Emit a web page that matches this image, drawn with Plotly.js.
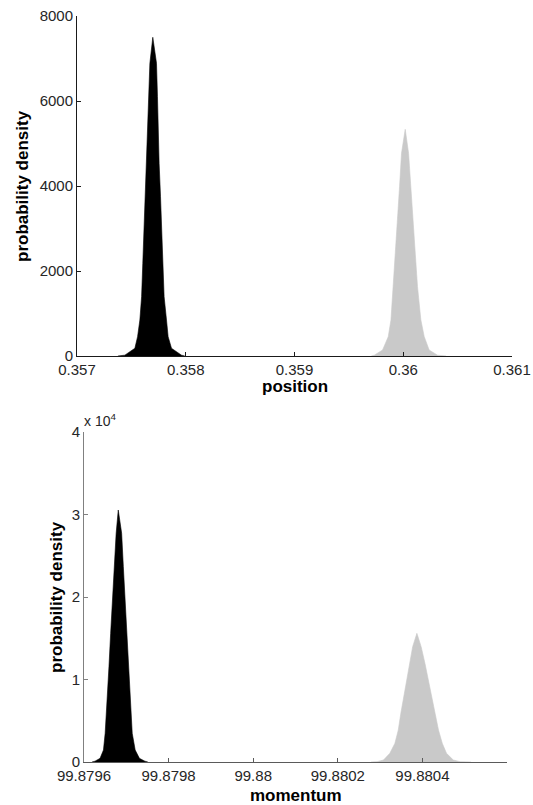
<!DOCTYPE html>
<html>
<head>
<meta charset="utf-8">
<script src="https://cdn.plot.ly/plotly-3.0.1.min.js"></script>
<style>html,body{margin:0;padding:0;background:#fff;}#chart{width:533px;height:805px;}</style>
</head>
<body>
<div id="chart"></div>
<script>
// ---- Top panel: position ----
var posBlackX = [0.357376,0.357440,0.357532,0.357557,0.357578,0.357594,0.357605,0.357615,0.357624,0.357633,0.357645,0.357654,0.357670,0.357697,0.357731,0.357740,0.357746,0.357755,0.357768,0.357777,0.357792,0.357801,0.357823,0.357838,0.357869,0.357961,0.357991];
var posBlackY = [0,20,181,455,847,1396,2181,2965,3749,4534,5318,6102,6887,7499,6887,6102,5318,4534,3749,2965,2181,1396,847,455,181,20,0];
var posGrayX = [0.359706,0.359734,0.359810,0.359862,0.359887,0.359908,0.359927,0.359948,0.359966,0.359984,0.360018,0.360049,0.360071,0.360092,0.360110,0.360131,0.360162,0.360193,0.360238,0.360315,0.360394];
var posGrayY = [0,20,141,455,847,1631,2416,3200,3984,4769,5334,4769,3984,3200,2416,1631,847,455,141,20,0];
var posTickVals = [0.357,0.358,0.359,0.360,0.361];
var posTickText = ['0.357','0.358','0.359','0.36','0.361'];
var posYTickVals = [0,2000,4000,6000,8000];
var posYTickText = ['0','2000','4000','6000','8000'];

// ---- Bottom panel: momentum ----
var momBlackX = [99.8796189,99.879626,99.879638,99.879646,99.879650,99.879655,99.879659,99.879663,99.879667,99.879671,99.879676,99.879681,99.879689,99.879693,99.879697,99.879701,99.879705,99.879709,99.879714,99.879721,99.879731,99.879744,99.879751];
var momBlackY = [0,100,444,1454,3475,7515,11556,15596,19636,23673,27717,30545,27717,23673,19636,15596,11556,7515,3475,1454,444,100,0];
var momGrayX = [99.8802785,99.880293,99.880308,99.880323,99.880335,99.880343,99.880349,99.880356,99.880362,99.880369,99.880377,99.880387,99.880397,99.880406,99.880414,99.880422,99.880430,99.880438,99.880447,99.880457,99.880473,99.880489,99.880515];
var momGrayY = [0,40,242,1050,2262,3878,5898,7919,9938,11960,13979,15596,13979,11960,9938,7919,5898,3878,2262,1050,242,40,0];
var momTickVals = [99.8796,99.8798,99.8800,99.8802,99.8804,99.8806];
var momTickText = ['99.8796','99.8798','99.88','99.8802','99.8804','99.8806'];
var momYTickVals = [0,10000,20000,30000,40000];
var momYTickText = ['0','1','2','3','4'];

var BLACK = '#000000', GRAY = '#c9c9c9';
var FONT = '"Liberation Sans", Arial, Helvetica, sans-serif';

function area(x, y, color, xa, ya) {
  return {x: x, y: y, type: 'scatter', mode: 'lines', fill: 'tozeroy',
          fillcolor: color, line: {color: color, width: 0.6},
          xaxis: xa, yaxis: ya, hoverinfo: 'skip', showlegend: false};
}

var data = [
  area(posBlackX, posBlackY, BLACK, 'x', 'y'),
  area(posGrayX, posGrayY, GRAY, 'x', 'y'),
  area(momBlackX, momBlackY, BLACK, 'x2', 'y2'),
  area(momGrayX, momGrayY, GRAY, 'x2', 'y2')
];

function axis(extra) {
  var a = {showgrid: false, zeroline: false, showline: true, linewidth: 1,
           ticks: 'inside', ticklen: 4, tickwidth: 1, tickmode: 'array',
           tickfont: {family: FONT, size: 15, color: '#262626'}, fixedrange: true};
  for (var k in extra) a[k] = extra[k];
  return a;
}

var W = 533, H = 805;
var TITLE_FONT = {family: FONT, size: 17, color: '#000'};
var layout = {
  width: W, height: H,
  margin: {l: 0, r: 0, t: 0, b: 0},
  paper_bgcolor: '#ffffff', plot_bgcolor: '#ffffff',
  font: {family: FONT},
  xaxis: axis({domain: [77/W, 512/W], range: [0.357, 0.361], anchor: 'y',
               tickvals: posTickVals, ticktext: posTickText,
               linecolor: '#1a1a1a', tickcolor: '#1a1a1a'}),
  yaxis: axis({domain: [(H-356)/H, (H-16)/H], range: [0, 8000], anchor: 'x',
               tickvals: posYTickVals, ticktext: posYTickText,
               linecolor: '#1a1a1a', tickcolor: '#1a1a1a'}),
  xaxis2: axis({domain: [84/W, 507/W], range: [99.8796, 99.8806], anchor: 'y2',
               tickvals: momTickVals, ticktext: momTickText,
               linecolor: '#5a5a5a', tickcolor: '#5a5a5a'}),
  yaxis2: axis({domain: [(H-762)/H, (H-432)/H], range: [0, 40000], anchor: 'x2',
               tickvals: momYTickVals, ticktext: momYTickText,
               linecolor: '#808080', tickcolor: '#808080'}),
  annotations: [
    {text: '<b>position</b>', xref: 'paper', yref: 'paper', x: 294.5/W, y: 1 - 387/H,
     xanchor: 'center', yanchor: 'middle', showarrow: false, font: TITLE_FONT},
    {text: '<b>momentum</b>', xref: 'paper', yref: 'paper', x: 295.5/W, y: 1 - 795/H,
     xanchor: 'center', yanchor: 'middle', showarrow: false, font: TITLE_FONT},
    {text: '<b>probability density</b>', xref: 'paper', yref: 'paper', x: 22/W, y: 1 - 186/H,
     xanchor: 'center', yanchor: 'middle', textangle: -90, showarrow: false, font: TITLE_FONT},
    {text: '<b>probability density</b>', xref: 'paper', yref: 'paper', x: 56/W, y: 1 - 597/H,
     xanchor: 'center', yanchor: 'middle', textangle: -90, showarrow: false, font: TITLE_FONT},
    {text: 'x 10<sup>4</sup>', xref: 'paper', yref: 'paper', x: 82/W, y: 1 - 420/H,
     xanchor: 'left', yanchor: 'middle', showarrow: false,
     font: {family: FONT, size: 14, color: '#262626'}}
  ]
};

Plotly.newPlot('chart', data, layout, {staticPlot: true, displayModeBar: false});
</script>
</body>
</html>
